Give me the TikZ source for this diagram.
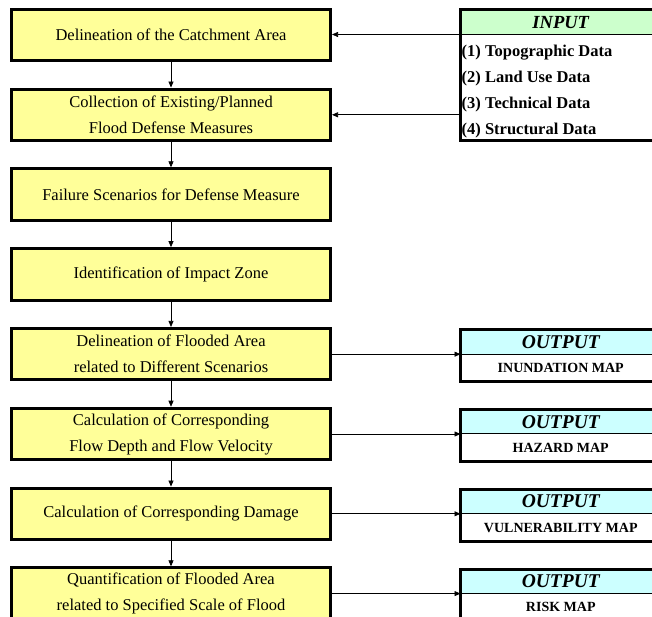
\documentclass[tikz,border=0pt]{standalone}
\usepackage{fontspec}
\setmainfont{Liberation Serif}
\usetikzlibrary{positioning, arrows.meta}
\definecolor{boxyellow}{RGB}{255,255,153}
\definecolor{ingreen}{RGB}{204,255,204}
\definecolor{outcyan}{RGB}{204,255,255}

\begin{document}
\begin{tikzpicture}[x=1pt, y=1pt, >={Triangle[length=6pt, width=5pt]},
    node distance=25.3pt,
    stepbox/.style={draw, line width=3pt, fill=boxyellow, minimum width=319pt,
      minimum height=51.5pt, align=center, font=\fontsize{16.5}{26}\selectfont},
    inhead/.style={draw, line width=1pt, fill=ingreen, minimum width=200.5pt,
      minimum height=24.5pt, outer sep=0pt,
      font=\fontsize{18.5}{20}\selectfont\bfseries\itshape},
    outhead/.style={inhead, fill=outcyan, font=\fontsize{19.5}{20}\selectfont\bfseries\itshape},
    outbody/.style={draw, line width=1pt, minimum width=200.5pt,
      minimum height=27.5pt, outer sep=0pt,
      font=\fontsize{14}{16}\selectfont\bfseries},
    frame/.style={line width=3pt},
    flow/.style={->, line width=0.7pt}]

  \useasboundingbox (0,0) rectangle (652,617);
  \clip (0,0) rectangle (652,617);

  % Procedure steps
  \node[stepbox] (b1) at (171,582) {Delineation of the Catchment Area};
  \node[stepbox, below=of b1] (b2) {Collection of Existing/Planned\\Flood Defense Measures};
  \node[stepbox, below=of b2] (b3) {Failure Scenarios for Defense Measure};
  \node[stepbox, below=of b3] (b4) {Identification of Impact Zone};
  \node[stepbox, below=of b4] (b5) {Delineation of Flooded Area\\related to Different Scenarios};
  \node[stepbox, below=of b5] (b6) {Calculation of Corresponding\\Flow Depth and Flow Velocity};
  \node[stepbox, below=of b6] (b7) {Calculation of Corresponding Damage};
  \node[stepbox, below=of b7] (b8) {Quantification of Flooded Area\\related to Specified Scale of Flood};

  \foreach \a/\b in {b1/b2, b2/b3, b3/b4, b4/b5, b5/b6, b6/b7, b7/b8}
    \draw[flow] (\a) -- (\b);

  % Input data
  \node[inhead] (inhead) at (560.75,594.75) {INPUT};
  \coordinate (incorner) at ([yshift=-106.5pt]inhead.south east);
  \node[anchor=west, inner sep=1pt, align=left,
    font=\fontsize{16.5}{26.3}\selectfont\bfseries] (inlist)
    at ([yshift=-57pt]inhead.south west)
    {(1) Topographic Data\\(2) Land Use Data\\(3) Technical Data\\(4) Structural Data};
  \draw[frame] (inhead.north west) rectangle (incorner);

  \draw[flow] (inhead.south west) -- (inhead.south west -| b1.east);
  \draw[flow] (inhead.south west |- b2.east) -- (b2.east);

  % Outputs
  \foreach \s/\o/\t in {b5/o1/INUNDATION MAP, b6/o2/HAZARD MAP,
      b7/o3/VULNERABILITY MAP, b8/o4/RISK MAP} {
    \node[outhead, anchor=south west] (\o h) at ([xshift=128.5pt]\s.east) {OUTPUT};
    \node[outbody, below=0pt of \o h] (\o b) {\t};
    \draw[frame] (\o h.north west) rectangle (\o b.south east);
    \draw[flow] (\s.east) -- (\s.east -| \o h.west);
  }
\end{tikzpicture}
\end{document}
